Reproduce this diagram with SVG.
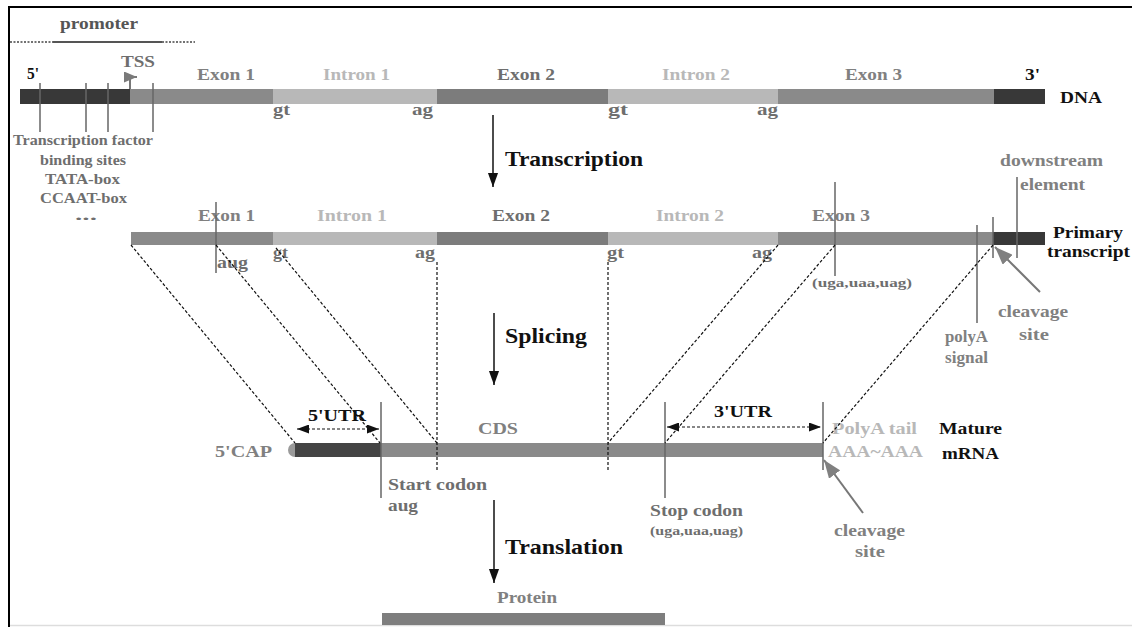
<svg xmlns="http://www.w3.org/2000/svg" width="1132" height="627" viewBox="0 0 1132 627">
<style>
text{font-family:"Liberation Serif","Times New Roman",serif;font-weight:bold}
.s15{font-size:16px}.s14{font-size:14.5px}.s16{font-size:17px}.s21{font-size:22px}.s11{font-size:11.5px}
.k{fill:#111}.m{fill:#808080}.d{fill:#6e6e6e}.l{fill:#b8b8b8}.p{fill:#555}
.vl{stroke:#666;stroke-width:1.5;fill:none}
.dash{stroke:#111;stroke-width:1.2;stroke-dasharray:3 2;fill:none}
.pa{stroke:#111;stroke-width:1.5;fill:none}
.ga{stroke:#777;stroke-width:2;fill:none}
</style>
<defs>
<marker id="ah" markerUnits="userSpaceOnUse" markerWidth="14" markerHeight="20" refX="18" refY="6.5" viewBox="0 0 18 13" orient="auto"><path d="M0,0 L18,6.5 L0,13 Z" fill="#111"/></marker>
<marker id="sh" markerUnits="userSpaceOnUse" markerWidth="12" markerHeight="9" refX="12" refY="4.5" viewBox="0 0 12 9" orient="auto-start-reverse"><path d="M0,0 L12,4.5 L0,9 Z" fill="#111"/></marker>
<marker id="gh" markerUnits="userSpaceOnUse" markerWidth="20" markerHeight="14" refX="18" refY="7" viewBox="0 0 20 14" orient="auto"><path d="M0,0 L18,7 L0,14 Z" fill="#808080"/></marker>
<marker id="th" markerUnits="userSpaceOnUse" markerWidth="14" markerHeight="11" refX="13" refY="5.5" viewBox="0 0 14 11" orient="auto"><path d="M0,0 L13,5.5 L0,11 Z" fill="#7a7a7a"/></marker>
</defs>
<rect x="0" y="0" width="1132" height="627" fill="#fff"/>
<g id="frame">
<line x1="8" y1="7" x2="1132" y2="7" stroke="#000" stroke-width="2"/>
<line x1="9" y1="6" x2="9" y2="627" stroke="#000" stroke-width="2"/>
<line x1="10" y1="625.5" x2="1132" y2="625.5" stroke="#ddd" stroke-width="1.5"/>
</g>
<g id="promoter">
<line x1="10" y1="42" x2="53" y2="42" stroke="#444" stroke-width="1.5" stroke-dasharray="2 1.5"/>
<line x1="53" y1="42" x2="162" y2="42" stroke="#555" stroke-width="2"/>
<line x1="162" y1="42" x2="195" y2="42" stroke="#444" stroke-width="1.5" stroke-dasharray="2 1.5"/>
<text class="s15 p" x="60" y="29" textLength="78" lengthAdjust="spacingAndGlyphs">promoter</text>
</g>
<g id="dna">
<rect x="20" y="89" width="110" height="15" fill="#383838"/>
<rect x="130" y="89" width="143" height="15" fill="#8a8a8a"/>
<rect x="273" y="89" width="164" height="15" fill="#b8b8b8"/>
<rect x="437" y="89" width="171" height="15" fill="#7c7c7c"/>
<rect x="608" y="89" width="170" height="15" fill="#b8b8b8"/>
<rect x="778" y="89" width="216" height="15" fill="#8a8a8a"/>
<rect x="994" y="89" width="51" height="15" fill="#383838"/>
<text class="s15 k" x="27" y="79" textLength="12" lengthAdjust="spacingAndGlyphs">5'</text>
<text class="s15 d" x="121" y="67" textLength="34" lengthAdjust="spacingAndGlyphs">TSS</text>
<text class="s15 m" x="197" y="80" textLength="58" lengthAdjust="spacingAndGlyphs">Exon 1</text>
<text class="s15 l" x="323" y="80" textLength="67" lengthAdjust="spacingAndGlyphs">Intron 1</text>
<text class="s15 d" x="497" y="80" textLength="58" lengthAdjust="spacingAndGlyphs">Exon 2</text>
<text class="s15 l" x="662" y="80" textLength="68" lengthAdjust="spacingAndGlyphs">Intron 2</text>
<text class="s15 m" x="845" y="80" textLength="57" lengthAdjust="spacingAndGlyphs">Exon 3</text>
<text class="s15 k" x="1025" y="80" textLength="15" lengthAdjust="spacingAndGlyphs">3'</text>
<text class="s15 k" x="1060" y="103" textLength="42" lengthAdjust="spacingAndGlyphs">DNA</text>
<text class="s15 d" x="273" y="115" textLength="17" lengthAdjust="spacingAndGlyphs">gt</text>
<text class="s15 d" x="412" y="115" textLength="21" lengthAdjust="spacingAndGlyphs">ag</text>
<text class="s15 d" x="608" y="115" textLength="20" lengthAdjust="spacingAndGlyphs">gt</text>
<text class="s15 d" x="757" y="115" textLength="21" lengthAdjust="spacingAndGlyphs">ag</text>
</g>
<g id="binding-sites">
<line class="vl" x1="40" y1="83" x2="40" y2="132"/>
<line class="vl" x1="86" y1="83" x2="86" y2="132"/>
<line class="vl" x1="108" y1="83" x2="108" y2="132"/>
<line class="vl" x1="153" y1="83" x2="153" y2="132"/>
<text class="s14 d" x="13" y="145" textLength="140" lengthAdjust="spacingAndGlyphs">Transcription factor</text>
<text class="s14 d" x="40" y="165" textLength="86" lengthAdjust="spacingAndGlyphs">binding sites</text>
<text class="s14 d" x="45" y="184" textLength="75" lengthAdjust="spacingAndGlyphs">TATA-box</text>
<text class="s14 d" x="40" y="203" textLength="87" lengthAdjust="spacingAndGlyphs">CCAAT-box</text>
<text class="s14 d" x="75" y="220" textLength="22" lengthAdjust="spacingAndGlyphs">...</text>
</g>
<g id="primary-transcript">
<rect x="131" y="232" width="142" height="13" fill="#8a8a8a"/>
<rect x="273" y="232" width="164" height="13" fill="#b8b8b8"/>
<rect x="437" y="232" width="171" height="13" fill="#7c7c7c"/>
<rect x="608" y="232" width="170" height="13" fill="#b8b8b8"/>
<rect x="778" y="232" width="215" height="13" fill="#8a8a8a"/>
<rect x="993" y="232" width="52" height="13" fill="#383838"/>
<text class="s15 m" x="198" y="221" textLength="57" lengthAdjust="spacingAndGlyphs">Exon 1</text>
<text class="s15 l" x="317" y="221" textLength="70" lengthAdjust="spacingAndGlyphs">Intron 1</text>
<text class="s15 d" x="492" y="221" textLength="58" lengthAdjust="spacingAndGlyphs">Exon 2</text>
<text class="s15 l" x="656" y="221" textLength="68" lengthAdjust="spacingAndGlyphs">Intron 2</text>
<text class="s15 m" x="812" y="221" textLength="58" lengthAdjust="spacingAndGlyphs">Exon 3</text>
<line class="vl" x1="216" y1="202" x2="216" y2="273"/>
<line class="vl" x1="835" y1="182" x2="835" y2="276"/>
<line class="vl" x1="977" y1="225" x2="977" y2="323"/>
<line class="vl" x1="993" y1="217" x2="993" y2="258"/>
<line class="vl" x1="1017" y1="177" x2="1017" y2="258"/>
<text class="s15 d" x="217" y="268" textLength="31" lengthAdjust="spacingAndGlyphs">aug</text>
<text class="s15 d" x="273" y="258" textLength="15" lengthAdjust="spacingAndGlyphs">gt</text>
<text class="s15 d" x="415" y="258" textLength="20" lengthAdjust="spacingAndGlyphs">ag</text>
<text class="s15 d" x="607" y="258" textLength="17" lengthAdjust="spacingAndGlyphs">gt</text>
<text class="s15 d" x="752" y="258" textLength="20" lengthAdjust="spacingAndGlyphs">ag</text>
<text class="s11 d" x="812" y="287" textLength="100" lengthAdjust="spacingAndGlyphs">(uga,uaa,uag)</text>
<text class="s16 m" x="1000" y="166" textLength="103" lengthAdjust="spacingAndGlyphs">downstream</text>
<text class="s16 m" x="1020" y="190" textLength="65" lengthAdjust="spacingAndGlyphs">element</text>
<text class="s16 k" x="1053" y="238" textLength="70" lengthAdjust="spacingAndGlyphs">Primary</text>
<text class="s16 k" x="1047" y="257" textLength="83" lengthAdjust="spacingAndGlyphs">transcript</text>
<text class="s15 m" x="998" y="317" textLength="70" lengthAdjust="spacingAndGlyphs">cleavage</text>
<text class="s15 m" x="1019" y="340" textLength="30" lengthAdjust="spacingAndGlyphs">site</text>
<text class="s15 m" x="945" y="342" textLength="43" lengthAdjust="spacingAndGlyphs">polyA</text>
<text class="s15 m" x="945" y="363" textLength="43" lengthAdjust="spacingAndGlyphs">signal</text>
</g>
<g id="mature-mrna">
<path d="M295,443 A7,7 0 0 0 295,457 Z" fill="#9a9a9a"/>
<rect x="295" y="443" width="86" height="14" fill="#444"/>
<rect x="381" y="443" width="442" height="14" fill="#8a8a8a"/>
<line class="vl" x1="381" y1="402" x2="381" y2="498"/>
<line class="vl" x1="665" y1="402" x2="665" y2="498"/>
<line class="vl" x1="823" y1="402" x2="823" y2="470"/>
<text class="s15 m" x="215" y="457" textLength="57" lengthAdjust="spacingAndGlyphs">5'CAP</text>
<text class="s15 k" x="308" y="421" textLength="58" lengthAdjust="spacingAndGlyphs">5'UTR</text>
<text class="s15 m" x="478" y="434" textLength="40" lengthAdjust="spacingAndGlyphs">CDS</text>
<text class="s15 d" x="388" y="490" textLength="99" lengthAdjust="spacingAndGlyphs">Start codon</text>
<text class="s15 d" x="388" y="511" textLength="30" lengthAdjust="spacingAndGlyphs">aug</text>
<text class="s15 d" x="650" y="516" textLength="93" lengthAdjust="spacingAndGlyphs">Stop codon</text>
<text class="s11 d" x="650" y="535" textLength="93" lengthAdjust="spacingAndGlyphs">(uga,uaa,uag)</text>
<text class="s15 k" x="714" y="417" textLength="58" lengthAdjust="spacingAndGlyphs">3'UTR</text>
<text class="s15 l" x="832" y="434" textLength="85" lengthAdjust="spacingAndGlyphs">PolyA tail</text>
<text class="s15 l" x="828" y="457" textLength="95" lengthAdjust="spacingAndGlyphs">AAA~AAA</text>
<text class="s16 k" x="939" y="434" textLength="63" lengthAdjust="spacingAndGlyphs">Mature</text>
<text class="s16 k" x="942" y="459" textLength="57" lengthAdjust="spacingAndGlyphs">mRNA</text>
<text class="s15 m" x="834" y="536" textLength="71" lengthAdjust="spacingAndGlyphs">cleavage</text>
<text class="s15 m" x="855" y="557" textLength="30" lengthAdjust="spacingAndGlyphs">site</text>
</g>
<g id="protein">
<rect x="382" y="613" width="283" height="12" fill="#7e7e7e"/>
<text class="s15 m" x="497" y="603" textLength="60" lengthAdjust="spacingAndGlyphs">Protein</text>
</g>
<g id="process-labels">
<text class="s21 k" x="505" y="166" textLength="138" lengthAdjust="spacingAndGlyphs">Transcription</text>
<text class="s21 k" x="505" y="343" textLength="82" lengthAdjust="spacingAndGlyphs">Splicing</text>
<text class="s21 k" x="505" y="554" textLength="118" lengthAdjust="spacingAndGlyphs">Translation</text>
</g>
<g id="connectors">
<path class="ga" d="M130,89 L130,77 L137,77" stroke-width="1.5" marker-end="url(#th)"/>
<line class="pa" x1="493" y1="115" x2="493" y2="187" marker-end="url(#ah)"/>
<line class="pa" x1="494" y1="313" x2="494" y2="385" marker-end="url(#ah)"/>
<line class="pa" x1="494" y1="500" x2="494" y2="583" marker-end="url(#ah)"/>
<line class="dash" x1="131" y1="245" x2="295" y2="443"/>
<line class="dash" x1="216" y1="245" x2="380" y2="443"/>
<line class="dash" x1="276" y1="248" x2="437" y2="443"/>
<line class="dash" x1="437" y1="262" x2="437" y2="470"/>
<line class="dash" x1="608" y1="262" x2="608" y2="470"/>
<line class="dash" x1="778" y1="245" x2="608" y2="443"/>
<line class="dash" x1="835" y1="245" x2="665" y2="443"/>
<line class="dash" x1="993" y1="245" x2="823" y2="443"/>
<line class="dash" x1="297" y1="429" x2="379" y2="429" marker-start="url(#sh)" marker-end="url(#sh)"/>
<line class="dash" x1="667" y1="427" x2="821" y2="427" marker-start="url(#sh)" marker-end="url(#sh)"/>
<line class="ga" x1="1040" y1="292" x2="995" y2="247" marker-end="url(#gh)"/>
<line class="ga" x1="863" y1="513" x2="824" y2="460" marker-end="url(#gh)"/>
</g>
</svg>
